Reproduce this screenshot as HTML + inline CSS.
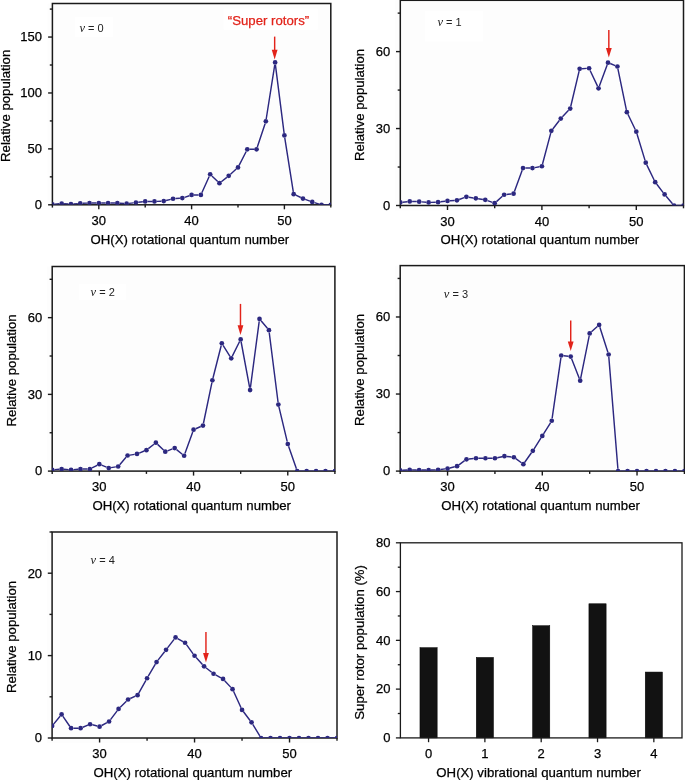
<!DOCTYPE html>
<html><head><meta charset="utf-8"><style>
html,body{margin:0;padding:0;background:#fff;}
body{width:685px;height:780px;overflow:hidden;}
svg{display:block;will-change:transform;}
.t{font-family:"Liberation Sans",sans-serif;font-size:13px;fill:#000;stroke:#000;stroke-width:0.25px;}
.ti{font-family:"Liberation Sans",sans-serif;font-size:13.2px;fill:#000;stroke:#000;stroke-width:0.25px;}
.vl{font-family:"Liberation Sans",sans-serif;font-size:11px;fill:#222;}
.vi{font-family:"Liberation Serif",serif;font-style:italic;font-size:12.5px;}
</style></head><body>
<svg width="685" height="780" viewBox="0 0 685 780">
<rect x="47.40" y="3.50" width="283.40" height="206.30" fill="#fdfdfd"/>
<rect x="395.30" y="0.30" width="288.20" height="210.20" fill="#fdfdfd"/>
<rect x="47.20" y="266.50" width="287.70" height="209.60" fill="#fdfdfd"/>
<rect x="395.20" y="265.60" width="289.20" height="210.50" fill="#fdfdfd"/>
<rect x="47.10" y="532.00" width="289.90" height="211.00" fill="#fdfdfd"/>
<rect x="74.9" y="17" width="38.10" height="19.90" fill="#fff"/>
<rect x="223.6" y="8.6" width="94.20" height="21.20" fill="#fff"/>
<rect x="424.8" y="11" width="58.40" height="30.60" fill="#fff"/>
<rect x="78.8" y="283.9" width="47.20" height="16.20" fill="#fff"/>
<rect x="52.40" y="3.50" width="278.40" height="201.30" fill="none" stroke="#1a1a1a" stroke-width="1.5"/>
<line x1="48.10" y1="204.80" x2="52.40" y2="204.80" stroke="#1a1a1a" stroke-width="1.4"/>
<text x="42.00" y="209.10" text-anchor="end" class="t">0</text>
<line x1="48.10" y1="148.88" x2="52.40" y2="148.88" stroke="#1a1a1a" stroke-width="1.4"/>
<text x="42.00" y="153.18" text-anchor="end" class="t">50</text>
<line x1="48.10" y1="92.97" x2="52.40" y2="92.97" stroke="#1a1a1a" stroke-width="1.4"/>
<text x="42.00" y="97.27" text-anchor="end" class="t">100</text>
<line x1="48.10" y1="37.05" x2="52.40" y2="37.05" stroke="#1a1a1a" stroke-width="1.4"/>
<text x="42.00" y="41.35" text-anchor="end" class="t">150</text>
<line x1="49.80" y1="176.84" x2="52.40" y2="176.84" stroke="#1a1a1a" stroke-width="1.4"/>
<line x1="49.80" y1="120.93" x2="52.40" y2="120.93" stroke="#1a1a1a" stroke-width="1.4"/>
<line x1="49.80" y1="65.01" x2="52.40" y2="65.01" stroke="#1a1a1a" stroke-width="1.4"/>
<line x1="49.80" y1="9.09" x2="52.40" y2="9.09" stroke="#1a1a1a" stroke-width="1.4"/>
<line x1="98.80" y1="204.80" x2="98.80" y2="209.30" stroke="#1a1a1a" stroke-width="1.4"/>
<text x="98.80" y="225.00" text-anchor="middle" class="t">30</text>
<line x1="191.60" y1="204.80" x2="191.60" y2="209.30" stroke="#1a1a1a" stroke-width="1.4"/>
<text x="191.60" y="225.00" text-anchor="middle" class="t">40</text>
<line x1="284.40" y1="204.80" x2="284.40" y2="209.30" stroke="#1a1a1a" stroke-width="1.4"/>
<text x="284.40" y="225.00" text-anchor="middle" class="t">50</text>
<line x1="52.40" y1="204.80" x2="52.40" y2="207.60" stroke="#1a1a1a" stroke-width="1.4"/>
<line x1="145.20" y1="204.80" x2="145.20" y2="207.60" stroke="#1a1a1a" stroke-width="1.4"/>
<line x1="238.00" y1="204.80" x2="238.00" y2="207.60" stroke="#1a1a1a" stroke-width="1.4"/>
<line x1="330.80" y1="204.80" x2="330.80" y2="207.60" stroke="#1a1a1a" stroke-width="1.4"/>
<text x="189.80" y="243.90" text-anchor="middle" class="ti">OH(X) rotational quantum number</text>
<text transform="translate(9.60,105.85) rotate(-90)" text-anchor="middle" class="ti">Relative population</text>
<clipPath id="cA"><rect x="52.40" y="3.50" width="278.40" height="201.30"/></clipPath>
<g clip-path="url(#cA)">
<path d="M54.80,204.10L59.28,203.83M64.08,203.80L68.56,204.01M73.35,203.96L77.85,203.63M82.64,203.34L87.12,203.13M91.92,203.01L96.40,203.01M101.20,203.01L105.68,203.01M110.48,203.01L114.96,203.01M119.75,203.18L124.25,203.51M129.02,203.39L133.54,202.85M138.30,202.28L142.82,201.73M147.60,201.45L152.08,201.45M156.88,201.36L161.36,201.20M166.09,200.52L170.71,199.35M175.43,198.59L179.93,198.26M184.59,197.32L189.33,195.73M194.00,194.96L198.48,194.96M201.86,192.77L209.18,176.46M211.89,175.94L217.71,181.55M221.32,181.72L226.84,177.33M230.50,174.23L236.22,169.06M239.09,165.31L246.19,151.47M249.68,149.33L254.16,149.33M257.32,147.05L265.08,123.65M266.21,119.00L274.75,64.81M275.42,64.82L284.10,133.08M284.77,137.83L293.31,191.81M295.85,195.20L300.79,197.52M305.22,199.35L309.98,201.08M314.53,202.61L319.23,204.08M323.92,204.80L328.40,204.80" fill="none" stroke="#2c2880" stroke-width="1.45"/>
<circle cx="52.40" cy="204.24" r="2.35" fill="#2c2880"/>
<circle cx="61.68" cy="203.68" r="2.35" fill="#2c2880"/>
<circle cx="70.96" cy="204.13" r="2.35" fill="#2c2880"/>
<circle cx="80.24" cy="203.46" r="2.35" fill="#2c2880"/>
<circle cx="89.52" cy="203.01" r="2.35" fill="#2c2880"/>
<circle cx="98.80" cy="203.01" r="2.35" fill="#2c2880"/>
<circle cx="108.08" cy="203.01" r="2.35" fill="#2c2880"/>
<circle cx="117.36" cy="203.01" r="2.35" fill="#2c2880"/>
<circle cx="126.64" cy="203.68" r="2.35" fill="#2c2880"/>
<circle cx="135.92" cy="202.56" r="2.35" fill="#2c2880"/>
<circle cx="145.20" cy="201.45" r="2.35" fill="#2c2880"/>
<circle cx="154.48" cy="201.45" r="2.35" fill="#2c2880"/>
<circle cx="163.76" cy="201.11" r="2.35" fill="#2c2880"/>
<circle cx="173.04" cy="198.76" r="2.35" fill="#2c2880"/>
<circle cx="182.32" cy="198.09" r="2.35" fill="#2c2880"/>
<circle cx="191.60" cy="194.96" r="2.35" fill="#2c2880"/>
<circle cx="200.88" cy="194.96" r="2.35" fill="#2c2880"/>
<circle cx="210.16" cy="174.27" r="2.35" fill="#2c2880"/>
<circle cx="219.44" cy="183.22" r="2.35" fill="#2c2880"/>
<circle cx="228.72" cy="175.84" r="2.35" fill="#2c2880"/>
<circle cx="238.00" cy="167.45" r="2.35" fill="#2c2880"/>
<circle cx="247.28" cy="149.33" r="2.35" fill="#2c2880"/>
<circle cx="256.56" cy="149.33" r="2.35" fill="#2c2880"/>
<circle cx="265.84" cy="121.37" r="2.35" fill="#2c2880"/>
<circle cx="275.12" cy="62.44" r="2.35" fill="#2c2880"/>
<circle cx="284.40" cy="135.46" r="2.35" fill="#2c2880"/>
<circle cx="293.68" cy="194.18" r="2.35" fill="#2c2880"/>
<circle cx="302.96" cy="198.54" r="2.35" fill="#2c2880"/>
<circle cx="312.24" cy="201.89" r="2.35" fill="#2c2880"/>
<circle cx="321.52" cy="204.80" r="2.35" fill="#2c2880"/>
<circle cx="330.80" cy="204.80" r="2.35" fill="#2c2880"/>
</g>
<line x1="274.66" y1="36.60" x2="274.66" y2="50.90" stroke="#e2231a" stroke-width="1.45"/>
<polygon points="271.76,49.80 277.56,49.80 274.66,59.40" fill="#e2231a"/>
<text x="79.50" y="31.80" class="vl"><tspan class="vi">v</tspan> = 0</text>
<rect x="400.30" y="0.30" width="283.20" height="205.20" fill="none" stroke="#1a1a1a" stroke-width="1.5"/>
<line x1="396.00" y1="205.50" x2="400.30" y2="205.50" stroke="#1a1a1a" stroke-width="1.4"/>
<text x="390.30" y="209.80" text-anchor="end" class="t">0</text>
<line x1="396.00" y1="128.55" x2="400.30" y2="128.55" stroke="#1a1a1a" stroke-width="1.4"/>
<text x="390.30" y="132.85" text-anchor="end" class="t">30</text>
<line x1="396.00" y1="51.60" x2="400.30" y2="51.60" stroke="#1a1a1a" stroke-width="1.4"/>
<text x="390.30" y="55.90" text-anchor="end" class="t">60</text>
<line x1="397.70" y1="167.03" x2="400.30" y2="167.03" stroke="#1a1a1a" stroke-width="1.4"/>
<line x1="397.70" y1="90.08" x2="400.30" y2="90.08" stroke="#1a1a1a" stroke-width="1.4"/>
<line x1="397.70" y1="13.12" x2="400.30" y2="13.12" stroke="#1a1a1a" stroke-width="1.4"/>
<line x1="447.50" y1="205.50" x2="447.50" y2="210.00" stroke="#1a1a1a" stroke-width="1.4"/>
<text x="447.50" y="225.70" text-anchor="middle" class="t">30</text>
<line x1="541.90" y1="205.50" x2="541.90" y2="210.00" stroke="#1a1a1a" stroke-width="1.4"/>
<text x="541.90" y="225.70" text-anchor="middle" class="t">40</text>
<line x1="636.30" y1="205.50" x2="636.30" y2="210.00" stroke="#1a1a1a" stroke-width="1.4"/>
<text x="636.30" y="225.70" text-anchor="middle" class="t">50</text>
<line x1="400.30" y1="205.50" x2="400.30" y2="208.30" stroke="#1a1a1a" stroke-width="1.4"/>
<line x1="494.70" y1="205.50" x2="494.70" y2="208.30" stroke="#1a1a1a" stroke-width="1.4"/>
<line x1="589.10" y1="205.50" x2="589.10" y2="208.30" stroke="#1a1a1a" stroke-width="1.4"/>
<line x1="683.50" y1="205.50" x2="683.50" y2="208.30" stroke="#1a1a1a" stroke-width="1.4"/>
<text x="539.90" y="244.00" text-anchor="middle" class="ti">OH(X) rotational quantum number</text>
<text transform="translate(363.90,105.00) rotate(-90)" text-anchor="middle" class="ti">Relative population</text>
<clipPath id="cB"><rect x="400.30" y="0.30" width="283.20" height="205.20"/></clipPath>
<g clip-path="url(#cB)">
<path d="M402.69,202.16L407.35,201.66M412.14,201.46L416.78,201.59M421.57,201.85L426.23,202.23M431.02,202.36L435.66,202.23M440.44,201.84L445.12,201.21M449.90,200.75L454.54,200.50M459.18,199.52L464.14,197.63M468.75,197.17L473.45,197.93M478.19,198.70L482.89,199.47M487.52,200.66L492.44,202.39M496.49,201.59L502.35,196.33M506.53,194.47L511.19,193.96M514.41,191.45L522.19,170.30M525.42,168.05L530.06,168.05M534.82,167.60L539.54,166.70M542.52,163.94L550.72,133.18M552.80,128.95L559.32,120.45M562.43,116.80L568.57,110.29M570.77,106.21L579.11,71.12M582.06,68.66L586.70,68.40M590.12,70.44L597.52,86.11M599.37,86.03L607.15,64.88M610.20,63.54L615.20,65.57M617.91,68.83L626.37,109.78M627.91,114.29L635.25,129.47M637.00,133.92L645.04,160.37M646.79,164.82L654.13,180.00M656.64,184.06L663.16,192.57M666.18,196.29L672.50,203.68M676.46,205.50L681.10,205.50" fill="none" stroke="#2c2880" stroke-width="1.45"/>
<circle cx="400.30" cy="202.42" r="2.35" fill="#2c2880"/>
<circle cx="409.74" cy="201.40" r="2.35" fill="#2c2880"/>
<circle cx="419.18" cy="201.65" r="2.35" fill="#2c2880"/>
<circle cx="428.62" cy="202.42" r="2.35" fill="#2c2880"/>
<circle cx="438.06" cy="202.17" r="2.35" fill="#2c2880"/>
<circle cx="447.50" cy="200.88" r="2.35" fill="#2c2880"/>
<circle cx="456.94" cy="200.37" r="2.35" fill="#2c2880"/>
<circle cx="466.38" cy="196.78" r="2.35" fill="#2c2880"/>
<circle cx="475.82" cy="198.32" r="2.35" fill="#2c2880"/>
<circle cx="485.26" cy="199.86" r="2.35" fill="#2c2880"/>
<circle cx="494.70" cy="203.19" r="2.35" fill="#2c2880"/>
<circle cx="504.14" cy="194.73" r="2.35" fill="#2c2880"/>
<circle cx="513.58" cy="193.70" r="2.35" fill="#2c2880"/>
<circle cx="523.02" cy="168.05" r="2.35" fill="#2c2880"/>
<circle cx="532.46" cy="168.05" r="2.35" fill="#2c2880"/>
<circle cx="541.90" cy="166.26" r="2.35" fill="#2c2880"/>
<circle cx="551.34" cy="130.86" r="2.35" fill="#2c2880"/>
<circle cx="560.78" cy="118.55" r="2.35" fill="#2c2880"/>
<circle cx="570.22" cy="108.54" r="2.35" fill="#2c2880"/>
<circle cx="579.66" cy="68.79" r="2.35" fill="#2c2880"/>
<circle cx="589.10" cy="68.27" r="2.35" fill="#2c2880"/>
<circle cx="598.54" cy="88.28" r="2.35" fill="#2c2880"/>
<circle cx="607.98" cy="62.63" r="2.35" fill="#2c2880"/>
<circle cx="617.42" cy="66.48" r="2.35" fill="#2c2880"/>
<circle cx="626.86" cy="112.13" r="2.35" fill="#2c2880"/>
<circle cx="636.30" cy="131.63" r="2.35" fill="#2c2880"/>
<circle cx="645.74" cy="162.66" r="2.35" fill="#2c2880"/>
<circle cx="655.18" cy="182.16" r="2.35" fill="#2c2880"/>
<circle cx="664.62" cy="194.47" r="2.35" fill="#2c2880"/>
<circle cx="674.06" cy="205.50" r="2.35" fill="#2c2880"/>
<circle cx="683.50" cy="205.50" r="2.35" fill="#2c2880"/>
</g>
<line x1="608.83" y1="29.90" x2="608.83" y2="49.00" stroke="#e2231a" stroke-width="1.45"/>
<polygon points="605.93,47.90 611.73,47.90 608.83,57.50" fill="#e2231a"/>
<text x="437.50" y="26.00" class="vl"><tspan class="vi">v</tspan> = 1</text>
<rect x="52.20" y="266.50" width="282.70" height="204.60" fill="none" stroke="#1a1a1a" stroke-width="1.5"/>
<line x1="47.90" y1="471.10" x2="52.20" y2="471.10" stroke="#1a1a1a" stroke-width="1.4"/>
<text x="42.20" y="475.40" text-anchor="end" class="t">0</text>
<line x1="47.90" y1="394.38" x2="52.20" y2="394.38" stroke="#1a1a1a" stroke-width="1.4"/>
<text x="42.20" y="398.68" text-anchor="end" class="t">30</text>
<line x1="47.90" y1="317.65" x2="52.20" y2="317.65" stroke="#1a1a1a" stroke-width="1.4"/>
<text x="42.20" y="321.95" text-anchor="end" class="t">60</text>
<line x1="49.60" y1="432.74" x2="52.20" y2="432.74" stroke="#1a1a1a" stroke-width="1.4"/>
<line x1="49.60" y1="356.01" x2="52.20" y2="356.01" stroke="#1a1a1a" stroke-width="1.4"/>
<line x1="49.60" y1="279.29" x2="52.20" y2="279.29" stroke="#1a1a1a" stroke-width="1.4"/>
<line x1="99.32" y1="471.10" x2="99.32" y2="475.60" stroke="#1a1a1a" stroke-width="1.4"/>
<text x="99.32" y="491.30" text-anchor="middle" class="t">30</text>
<line x1="193.55" y1="471.10" x2="193.55" y2="475.60" stroke="#1a1a1a" stroke-width="1.4"/>
<text x="193.55" y="491.30" text-anchor="middle" class="t">40</text>
<line x1="287.78" y1="471.10" x2="287.78" y2="475.60" stroke="#1a1a1a" stroke-width="1.4"/>
<text x="287.78" y="491.30" text-anchor="middle" class="t">50</text>
<line x1="52.20" y1="471.10" x2="52.20" y2="473.90" stroke="#1a1a1a" stroke-width="1.4"/>
<line x1="146.43" y1="471.10" x2="146.43" y2="473.90" stroke="#1a1a1a" stroke-width="1.4"/>
<line x1="240.67" y1="471.10" x2="240.67" y2="473.90" stroke="#1a1a1a" stroke-width="1.4"/>
<line x1="334.90" y1="471.10" x2="334.90" y2="473.90" stroke="#1a1a1a" stroke-width="1.4"/>
<text x="191.70" y="509.90" text-anchor="middle" class="ti">OH(X) rotational quantum number</text>
<text transform="translate(15.80,370.50) rotate(-90)" text-anchor="middle" class="ti">Relative population</text>
<clipPath id="cC"><rect x="52.20" y="266.50" width="282.70" height="204.60"/></clipPath>
<g clip-path="url(#cC)">
<path d="M54.59,469.63L59.23,469.25M64.02,469.25L68.65,469.63M73.44,469.63L78.08,469.25M82.87,469.05L87.49,469.05M92.03,467.95L97.18,465.29M101.54,465.10L106.52,467.13M111.11,467.65L115.79,466.88M119.72,464.67L126.03,457.32M129.96,455.11L134.64,454.35M139.23,453.06L144.21,451.03M148.32,448.64L153.97,444.20M157.60,444.36L163.54,450.01M167.52,450.81L172.46,448.93M176.56,449.60L182.27,454.24M184.94,453.50L192.73,431.93M195.75,428.71L200.77,426.53M203.46,423.23L211.91,382.66M212.99,377.98L221.23,345.55M223.09,345.26L229.97,356.28M232.31,356.17L239.60,341.54M241.11,341.75L249.65,387.67M250.41,387.65L259.20,321.31M261.05,320.77L267.40,328.34M269.24,332.56L278.06,402.22M278.92,406.94L287.22,441.66M288.57,446.26L296.42,468.83M299.61,471.10L304.23,471.10M309.03,471.10L313.65,471.10M318.45,471.10L323.08,471.10M327.88,471.10L332.50,471.10" fill="none" stroke="#2c2880" stroke-width="1.45"/>
<circle cx="52.20" cy="469.82" r="2.35" fill="#2c2880"/>
<circle cx="61.62" cy="469.05" r="2.35" fill="#2c2880"/>
<circle cx="71.05" cy="469.82" r="2.35" fill="#2c2880"/>
<circle cx="80.47" cy="469.05" r="2.35" fill="#2c2880"/>
<circle cx="89.89" cy="469.05" r="2.35" fill="#2c2880"/>
<circle cx="99.32" cy="464.19" r="2.35" fill="#2c2880"/>
<circle cx="108.74" cy="468.03" r="2.35" fill="#2c2880"/>
<circle cx="118.16" cy="466.50" r="2.35" fill="#2c2880"/>
<circle cx="127.59" cy="455.50" r="2.35" fill="#2c2880"/>
<circle cx="137.01" cy="453.96" r="2.35" fill="#2c2880"/>
<circle cx="146.43" cy="450.13" r="2.35" fill="#2c2880"/>
<circle cx="155.86" cy="442.71" r="2.35" fill="#2c2880"/>
<circle cx="165.28" cy="451.66" r="2.35" fill="#2c2880"/>
<circle cx="174.70" cy="448.08" r="2.35" fill="#2c2880"/>
<circle cx="184.13" cy="455.75" r="2.35" fill="#2c2880"/>
<circle cx="193.55" cy="429.67" r="2.35" fill="#2c2880"/>
<circle cx="202.97" cy="425.58" r="2.35" fill="#2c2880"/>
<circle cx="212.40" cy="380.31" r="2.35" fill="#2c2880"/>
<circle cx="221.82" cy="343.23" r="2.35" fill="#2c2880"/>
<circle cx="231.24" cy="358.31" r="2.35" fill="#2c2880"/>
<circle cx="240.67" cy="339.39" r="2.35" fill="#2c2880"/>
<circle cx="250.09" cy="390.03" r="2.35" fill="#2c2880"/>
<circle cx="259.51" cy="318.93" r="2.35" fill="#2c2880"/>
<circle cx="268.94" cy="330.18" r="2.35" fill="#2c2880"/>
<circle cx="278.36" cy="404.61" r="2.35" fill="#2c2880"/>
<circle cx="287.78" cy="443.99" r="2.35" fill="#2c2880"/>
<circle cx="297.21" cy="471.10" r="2.35" fill="#2c2880"/>
<circle cx="306.63" cy="471.10" r="2.35" fill="#2c2880"/>
<circle cx="316.05" cy="471.10" r="2.35" fill="#2c2880"/>
<circle cx="325.48" cy="471.10" r="2.35" fill="#2c2880"/>
<circle cx="334.90" cy="471.10" r="2.35" fill="#2c2880"/>
</g>
<line x1="240.48" y1="303.90" x2="240.48" y2="326.40" stroke="#e2231a" stroke-width="1.45"/>
<polygon points="237.58,325.30 243.38,325.30 240.48,334.90" fill="#e2231a"/>
<text x="90.60" y="295.90" class="vl"><tspan class="vi">v</tspan> = 2</text>
<rect x="400.20" y="265.60" width="284.20" height="205.50" fill="none" stroke="#1a1a1a" stroke-width="1.5"/>
<line x1="395.90" y1="471.10" x2="400.20" y2="471.10" stroke="#1a1a1a" stroke-width="1.4"/>
<text x="390.20" y="475.40" text-anchor="end" class="t">0</text>
<line x1="395.90" y1="394.04" x2="400.20" y2="394.04" stroke="#1a1a1a" stroke-width="1.4"/>
<text x="390.20" y="398.34" text-anchor="end" class="t">30</text>
<line x1="395.90" y1="316.98" x2="400.20" y2="316.98" stroke="#1a1a1a" stroke-width="1.4"/>
<text x="390.20" y="321.28" text-anchor="end" class="t">60</text>
<line x1="397.60" y1="432.57" x2="400.20" y2="432.57" stroke="#1a1a1a" stroke-width="1.4"/>
<line x1="397.60" y1="355.51" x2="400.20" y2="355.51" stroke="#1a1a1a" stroke-width="1.4"/>
<line x1="397.60" y1="278.44" x2="400.20" y2="278.44" stroke="#1a1a1a" stroke-width="1.4"/>
<line x1="447.57" y1="471.10" x2="447.57" y2="475.60" stroke="#1a1a1a" stroke-width="1.4"/>
<text x="447.57" y="491.30" text-anchor="middle" class="t">30</text>
<line x1="542.30" y1="471.10" x2="542.30" y2="475.60" stroke="#1a1a1a" stroke-width="1.4"/>
<text x="542.30" y="491.30" text-anchor="middle" class="t">40</text>
<line x1="637.03" y1="471.10" x2="637.03" y2="475.60" stroke="#1a1a1a" stroke-width="1.4"/>
<text x="637.03" y="491.30" text-anchor="middle" class="t">50</text>
<line x1="400.20" y1="471.10" x2="400.20" y2="473.90" stroke="#1a1a1a" stroke-width="1.4"/>
<line x1="494.93" y1="471.10" x2="494.93" y2="473.90" stroke="#1a1a1a" stroke-width="1.4"/>
<line x1="589.67" y1="471.10" x2="589.67" y2="473.90" stroke="#1a1a1a" stroke-width="1.4"/>
<line x1="684.40" y1="471.10" x2="684.40" y2="473.90" stroke="#1a1a1a" stroke-width="1.4"/>
<text x="540.60" y="510.10" text-anchor="middle" class="ti">OH(X) rotational quantum number</text>
<text transform="translate(364.20,369.90) rotate(-90)" text-anchor="middle" class="ti">Relative population</text>
<clipPath id="cD"><rect x="400.20" y="265.60" width="284.20" height="205.50"/></clipPath>
<g clip-path="url(#cD)">
<path d="M402.60,470.20L407.28,469.95M412.07,469.88L416.75,470.01M421.55,470.07L426.22,470.07M431.02,470.01L435.69,469.88M440.47,469.49L445.19,468.85M449.90,467.96L454.71,466.79M458.98,464.80L464.58,460.70M468.90,459.02L473.60,458.52M478.39,458.26L483.06,458.26M487.86,458.26L492.53,458.26M497.28,457.75L502.06,456.71M506.79,456.46L511.49,456.97M515.82,458.65L521.42,462.75M524.74,462.21L531.44,452.76M534.11,448.78L541.01,437.93M543.57,433.87L550.50,422.79M552.12,418.38L560.90,357.88M563.63,355.77L568.33,356.27M571.60,358.77L579.32,378.45M580.66,378.33L589.20,335.77M591.46,331.81L597.35,326.54M599.87,327.22L607.88,352.19M608.81,356.87L617.89,468.71M620.49,471.10L625.16,471.10M629.96,471.10L634.63,471.10M639.43,471.10L644.11,471.10M648.91,471.10L653.58,471.10M658.38,471.10L663.05,471.10M667.85,471.10L672.53,471.10M677.33,471.10L682.00,471.10" fill="none" stroke="#2c2880" stroke-width="1.45"/>
<circle cx="400.20" cy="470.33" r="2.35" fill="#2c2880"/>
<circle cx="409.67" cy="469.82" r="2.35" fill="#2c2880"/>
<circle cx="419.15" cy="470.07" r="2.35" fill="#2c2880"/>
<circle cx="428.62" cy="470.07" r="2.35" fill="#2c2880"/>
<circle cx="438.09" cy="469.82" r="2.35" fill="#2c2880"/>
<circle cx="447.57" cy="468.53" r="2.35" fill="#2c2880"/>
<circle cx="457.04" cy="466.22" r="2.35" fill="#2c2880"/>
<circle cx="466.51" cy="459.28" r="2.35" fill="#2c2880"/>
<circle cx="475.99" cy="458.26" r="2.35" fill="#2c2880"/>
<circle cx="485.46" cy="458.26" r="2.35" fill="#2c2880"/>
<circle cx="494.93" cy="458.26" r="2.35" fill="#2c2880"/>
<circle cx="504.41" cy="456.20" r="2.35" fill="#2c2880"/>
<circle cx="513.88" cy="457.23" r="2.35" fill="#2c2880"/>
<circle cx="523.35" cy="464.16" r="2.35" fill="#2c2880"/>
<circle cx="532.83" cy="450.81" r="2.35" fill="#2c2880"/>
<circle cx="542.30" cy="435.91" r="2.35" fill="#2c2880"/>
<circle cx="551.77" cy="420.75" r="2.35" fill="#2c2880"/>
<circle cx="561.25" cy="355.51" r="2.35" fill="#2c2880"/>
<circle cx="570.72" cy="356.53" r="2.35" fill="#2c2880"/>
<circle cx="580.19" cy="380.68" r="2.35" fill="#2c2880"/>
<circle cx="589.67" cy="333.42" r="2.35" fill="#2c2880"/>
<circle cx="599.14" cy="324.94" r="2.35" fill="#2c2880"/>
<circle cx="608.61" cy="354.48" r="2.35" fill="#2c2880"/>
<circle cx="618.09" cy="471.10" r="2.35" fill="#2c2880"/>
<circle cx="627.56" cy="471.10" r="2.35" fill="#2c2880"/>
<circle cx="637.03" cy="471.10" r="2.35" fill="#2c2880"/>
<circle cx="646.51" cy="471.10" r="2.35" fill="#2c2880"/>
<circle cx="655.98" cy="471.10" r="2.35" fill="#2c2880"/>
<circle cx="665.45" cy="471.10" r="2.35" fill="#2c2880"/>
<circle cx="674.93" cy="471.10" r="2.35" fill="#2c2880"/>
<circle cx="684.40" cy="471.10" r="2.35" fill="#2c2880"/>
</g>
<line x1="570.72" y1="320.50" x2="570.72" y2="342.50" stroke="#e2231a" stroke-width="1.45"/>
<polygon points="567.82,341.40 573.62,341.40 570.72,351.00" fill="#e2231a"/>
<text x="443.80" y="297.90" class="vl"><tspan class="vi">v</tspan> = 3</text>
<rect x="52.10" y="532.00" width="284.90" height="206.00" fill="none" stroke="#1a1a1a" stroke-width="1.5"/>
<line x1="47.80" y1="738.00" x2="52.10" y2="738.00" stroke="#1a1a1a" stroke-width="1.4"/>
<text x="42.10" y="742.30" text-anchor="end" class="t">0</text>
<line x1="47.80" y1="655.60" x2="52.10" y2="655.60" stroke="#1a1a1a" stroke-width="1.4"/>
<text x="42.10" y="659.90" text-anchor="end" class="t">10</text>
<line x1="47.80" y1="573.20" x2="52.10" y2="573.20" stroke="#1a1a1a" stroke-width="1.4"/>
<text x="42.10" y="577.50" text-anchor="end" class="t">20</text>
<line x1="49.50" y1="696.80" x2="52.10" y2="696.80" stroke="#1a1a1a" stroke-width="1.4"/>
<line x1="49.50" y1="614.40" x2="52.10" y2="614.40" stroke="#1a1a1a" stroke-width="1.4"/>
<line x1="49.50" y1="532.00" x2="52.10" y2="532.00" stroke="#1a1a1a" stroke-width="1.4"/>
<line x1="99.58" y1="738.00" x2="99.58" y2="742.50" stroke="#1a1a1a" stroke-width="1.4"/>
<text x="99.58" y="758.20" text-anchor="middle" class="t">30</text>
<line x1="194.55" y1="738.00" x2="194.55" y2="742.50" stroke="#1a1a1a" stroke-width="1.4"/>
<text x="194.55" y="758.20" text-anchor="middle" class="t">40</text>
<line x1="289.52" y1="738.00" x2="289.52" y2="742.50" stroke="#1a1a1a" stroke-width="1.4"/>
<text x="289.52" y="758.20" text-anchor="middle" class="t">50</text>
<line x1="52.10" y1="738.00" x2="52.10" y2="740.80" stroke="#1a1a1a" stroke-width="1.4"/>
<line x1="147.07" y1="738.00" x2="147.07" y2="740.80" stroke="#1a1a1a" stroke-width="1.4"/>
<line x1="242.03" y1="738.00" x2="242.03" y2="740.80" stroke="#1a1a1a" stroke-width="1.4"/>
<line x1="337.00" y1="738.00" x2="337.00" y2="740.80" stroke="#1a1a1a" stroke-width="1.4"/>
<text x="192.80" y="776.90" text-anchor="middle" class="ti">OH(X) rotational quantum number</text>
<text transform="translate(15.80,637.00) rotate(-90)" text-anchor="middle" class="ti">Relative population</text>
<clipPath id="cE"><rect x="52.10" y="532.00" width="284.90" height="206.00"/></clipPath>
<g clip-path="url(#cE)">
<path d="M53.63,724.12L60.07,716.29M62.96,716.41L69.73,726.22M73.49,728.19L78.19,728.19M82.81,727.27L87.87,725.16M92.41,724.82L97.26,726.04M101.70,725.49L106.97,722.66M110.52,719.60L117.13,710.83M120.28,707.23L126.37,701.21M130.25,698.52L135.39,696.15M138.75,693.06L145.89,680.35M148.28,676.19L155.35,664.10M158.04,660.13L164.59,651.73M167.52,647.93L174.09,639.38M177.65,638.64L182.96,641.58M186.47,644.68L193.14,653.83M196.16,657.55L202.44,664.53M205.94,667.79L211.65,672.25M215.65,674.88L220.93,677.77M224.67,680.68L230.90,687.38M233.53,691.32L241.04,707.72M243.49,711.81L250.07,720.44M252.77,724.40L259.78,735.95M263.43,738.00L268.12,738.00M272.92,738.00L277.62,738.00M282.42,738.00L287.12,738.00M291.92,738.00L296.61,738.00M301.41,738.00L306.11,738.00M310.91,738.00L315.61,738.00M320.41,738.00L325.10,738.00M329.90,738.00L334.60,738.00" fill="none" stroke="#2c2880" stroke-width="1.45"/>
<circle cx="52.10" cy="725.97" r="2.35" fill="#2c2880"/>
<circle cx="61.60" cy="714.43" r="2.35" fill="#2c2880"/>
<circle cx="71.09" cy="728.19" r="2.35" fill="#2c2880"/>
<circle cx="80.59" cy="728.19" r="2.35" fill="#2c2880"/>
<circle cx="90.09" cy="724.24" r="2.35" fill="#2c2880"/>
<circle cx="99.58" cy="726.63" r="2.35" fill="#2c2880"/>
<circle cx="109.08" cy="721.52" r="2.35" fill="#2c2880"/>
<circle cx="118.58" cy="708.91" r="2.35" fill="#2c2880"/>
<circle cx="128.07" cy="699.52" r="2.35" fill="#2c2880"/>
<circle cx="137.57" cy="695.15" r="2.35" fill="#2c2880"/>
<circle cx="147.07" cy="678.26" r="2.35" fill="#2c2880"/>
<circle cx="156.56" cy="662.03" r="2.35" fill="#2c2880"/>
<circle cx="166.06" cy="649.83" r="2.35" fill="#2c2880"/>
<circle cx="175.56" cy="637.47" r="2.35" fill="#2c2880"/>
<circle cx="185.05" cy="642.75" r="2.35" fill="#2c2880"/>
<circle cx="194.55" cy="655.76" r="2.35" fill="#2c2880"/>
<circle cx="204.05" cy="666.31" r="2.35" fill="#2c2880"/>
<circle cx="213.54" cy="673.73" r="2.35" fill="#2c2880"/>
<circle cx="223.04" cy="678.92" r="2.35" fill="#2c2880"/>
<circle cx="232.54" cy="689.14" r="2.35" fill="#2c2880"/>
<circle cx="242.03" cy="709.90" r="2.35" fill="#2c2880"/>
<circle cx="251.53" cy="722.34" r="2.35" fill="#2c2880"/>
<circle cx="261.03" cy="738.00" r="2.35" fill="#2c2880"/>
<circle cx="270.52" cy="738.00" r="2.35" fill="#2c2880"/>
<circle cx="280.02" cy="738.00" r="2.35" fill="#2c2880"/>
<circle cx="289.52" cy="738.00" r="2.35" fill="#2c2880"/>
<circle cx="299.01" cy="738.00" r="2.35" fill="#2c2880"/>
<circle cx="308.51" cy="738.00" r="2.35" fill="#2c2880"/>
<circle cx="318.01" cy="738.00" r="2.35" fill="#2c2880"/>
<circle cx="327.50" cy="738.00" r="2.35" fill="#2c2880"/>
<circle cx="337.00" cy="738.00" r="2.35" fill="#2c2880"/>
</g>
<line x1="205.95" y1="632.10" x2="205.95" y2="654.10" stroke="#e2231a" stroke-width="1.45"/>
<polygon points="203.05,653.00 208.85,653.00 205.95,662.60" fill="#e2231a"/>
<text x="90.60" y="563.60" class="vl"><tspan class="vi">v</tspan> = 4</text>
<text x="268.5" y="24.7" text-anchor="middle" class="ti" style="fill:#e2231a;stroke:#e2231a">“Super rotors”</text>
<rect x="419.96" y="647.67" width="17.2" height="90.23" fill="#121212" stroke="#000" stroke-width="0.5"/>
<rect x="476.28" y="657.42" width="17.2" height="80.48" fill="#121212" stroke="#000" stroke-width="0.5"/>
<rect x="532.60" y="625.72" width="17.2" height="112.18" fill="#121212" stroke="#000" stroke-width="0.5"/>
<rect x="588.92" y="603.77" width="17.2" height="134.13" fill="#121212" stroke="#000" stroke-width="0.5"/>
<rect x="645.24" y="672.05" width="17.2" height="65.85" fill="#121212" stroke="#000" stroke-width="0.5"/>
<rect x="400.40" y="542.80" width="281.60" height="195.10" fill="none" stroke="#1a1a1a" stroke-width="1.3"/>
<line x1="395.90" y1="737.90" x2="400.40" y2="737.90" stroke="#1a1a1a" stroke-width="1.3"/>
<text x="390.40" y="742.20" text-anchor="end" class="t">0</text>
<line x1="395.90" y1="689.12" x2="400.40" y2="689.12" stroke="#1a1a1a" stroke-width="1.3"/>
<text x="390.40" y="693.42" text-anchor="end" class="t">20</text>
<line x1="395.90" y1="640.35" x2="400.40" y2="640.35" stroke="#1a1a1a" stroke-width="1.3"/>
<text x="390.40" y="644.65" text-anchor="end" class="t">40</text>
<line x1="395.90" y1="591.57" x2="400.40" y2="591.57" stroke="#1a1a1a" stroke-width="1.3"/>
<text x="390.40" y="595.87" text-anchor="end" class="t">60</text>
<line x1="395.90" y1="542.80" x2="400.40" y2="542.80" stroke="#1a1a1a" stroke-width="1.3"/>
<text x="390.40" y="547.10" text-anchor="end" class="t">80</text>
<line x1="397.80" y1="713.51" x2="400.40" y2="713.51" stroke="#1a1a1a" stroke-width="1.3"/>
<line x1="397.80" y1="664.74" x2="400.40" y2="664.74" stroke="#1a1a1a" stroke-width="1.3"/>
<line x1="397.80" y1="615.96" x2="400.40" y2="615.96" stroke="#1a1a1a" stroke-width="1.3"/>
<line x1="397.80" y1="567.19" x2="400.40" y2="567.19" stroke="#1a1a1a" stroke-width="1.3"/>
<line x1="428.56" y1="737.90" x2="428.56" y2="742.20" stroke="#1a1a1a" stroke-width="1.3"/>
<text x="428.56" y="757.70" text-anchor="middle" class="t">0</text>
<line x1="484.88" y1="737.90" x2="484.88" y2="742.20" stroke="#1a1a1a" stroke-width="1.3"/>
<text x="484.88" y="757.70" text-anchor="middle" class="t">1</text>
<line x1="541.20" y1="737.90" x2="541.20" y2="742.20" stroke="#1a1a1a" stroke-width="1.3"/>
<text x="541.20" y="757.70" text-anchor="middle" class="t">2</text>
<line x1="597.52" y1="737.90" x2="597.52" y2="742.20" stroke="#1a1a1a" stroke-width="1.3"/>
<text x="597.52" y="757.70" text-anchor="middle" class="t">3</text>
<line x1="653.84" y1="737.90" x2="653.84" y2="742.20" stroke="#1a1a1a" stroke-width="1.3"/>
<text x="653.84" y="757.70" text-anchor="middle" class="t">4</text>
<text x="538.6" y="776.5" text-anchor="middle" class="ti">OH(X) vibrational quantum number</text>
<text transform="translate(364.3,642.4) rotate(-90)" text-anchor="middle" class="ti">Super rotor population (%)</text>
</svg>
</body></html>
